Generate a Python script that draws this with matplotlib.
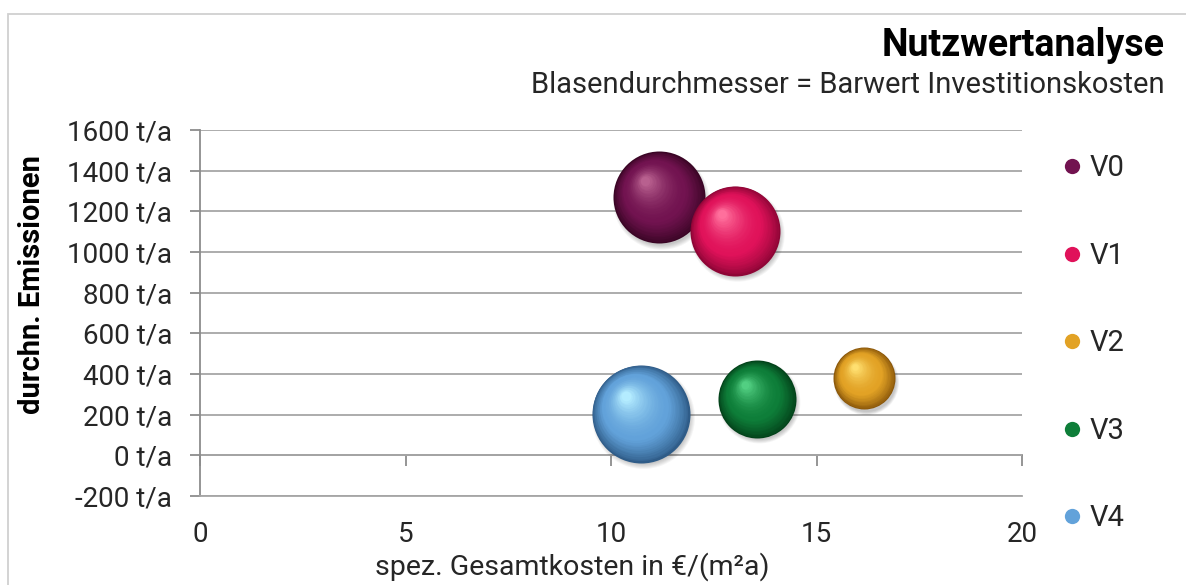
import matplotlib
matplotlib.use('Agg')
import matplotlib.pyplot as plt
import matplotlib.transforms as mtransforms
from matplotlib.colors import to_rgb
from matplotlib.lines import Line2D
from matplotlib.patches import Rectangle
import numpy as np

plt.rcParams['font.family'] = ['Roboto', 'DejaVu Sans']

# ------------------------------ #
variants = ['V0', 'V1', 'V2', 'V3', 'V4']
kosten = [11.17, 13.02, 16.16, 13.55, 10.72]          # spez. Gesamtkosten in €/(m²a)
emissionen = [1270, 1105, 380, 277, 205]             # durchn. Emissionen in t/a
barwert = [4.6, 4.5, 3.1, 3.9, 4.9]                  # Barwert Investitionskosten (Blasendurchmesser)
yTicks = [-200, 0, 200, 400, 600, 800, 1000, 1200, 1400, 1600]
xTicks = [0, 5, 10, 15, 20]

# base, dark rim, highlight
sphereColors = {
	'V0': ('#721350', '#3a0525', '#b8608f'),
	'V1': ('#e0125a', '#8e0536', '#ff6f9c'),
	'V2': ('#e2a225', '#8a570a', '#ffdf70'),
	'V3': ('#0e7e39', '#03421a', '#52cf82'),
	'V4': ('#62a2da', '#2f5c88', '#b4ecff'),
}
diamScale = 20 * 72 / 100   # barwert unit -> points
# ------------------------------ #

def mix(c1, c2, t):
	a, b = np.array(to_rgb(c1)), np.array(to_rgb(c2))
	return tuple(a + (b - a) * t)

def drawSphere(ax, fig, x, y, diam, colors, zorder, steps = 32):
	base, dark, light = colors
	r = diam / 2
	# soft shadow
	for k in range(6):
		tr = mtransforms.offset_copy(ax.transData, fig = fig, x = 1.5, y = -2.5, units = 'points')
		ax.scatter([x], [y], s = (diam * (1.05 - 0.02 * k)) ** 2, color = '#000000', alpha = 0.04,
			linewidths = 0, transform = tr, zorder = zorder)
	for k in range(steps):
		t = k / (steps - 1)
		d = diam * (1 - 0.9 * t)
		dx, dy = -0.30 * r * t, 0.36 * r * t
		if t < 0.35:
			c = mix(dark, base, (t / 0.35) ** 0.8)
		else:
			c = mix(base, light, ((t - 0.35) / 0.65) ** 1.8)
		tr = mtransforms.offset_copy(ax.transData, fig = fig, x = dx, y = dy, units = 'points')
		ax.scatter([x], [y], s = d ** 2, color = c, linewidths = 0, transform = tr, zorder = zorder + 0.01 * k)

fig = plt.figure(figsize = (11.86, 5.85), dpi = 100)
ax = fig.add_axes([200 / 1186, 89 / 585, 822 / 1186, 366 / 585])

ax.set_xlim(0, 20)
ax.set_ylim(-200, 1600)
ax.set_xticks(xTicks)
ax.set_yticks(yTicks)
ax.set_yticklabels([f'{v} t/a' for v in yTicks])
ax.grid(axis = 'y', color = '#a6a6a6', linewidth = 1.3)
ax.set_axisbelow(True)

for side in ['top', 'right']:
	ax.spines[side].set_visible(False)
ax.spines['left'].set_color('#8c8c8c')
ax.spines['left'].set_linewidth(1.3)
ax.spines['bottom'].set_color('#a6a6a6')
ax.spines['bottom'].set_linewidth(1.3)

ax.tick_params(axis = 'y', direction = 'out', length = 7, width = 1.3, color = '#8c8c8c',
	labelsize = 20, labelcolor = '#262626', pad = 13)
ax.tick_params(axis = 'x', length = 0, labelsize = 20, labelcolor = '#262626', pad = 18)

# x axis crosses at y = 0
secAx = ax.secondary_xaxis(200 / 1800)
secAx.set_xticks(xTicks)
secAx.tick_params(axis = 'x', direction = 'out', length = 8, width = 1.3, color = '#8c8c8c', labelbottom = False)
secAx.spines['bottom'].set_color('#8c8c8c')
secAx.spines['bottom'].set_linewidth(1.3)

for i in range(len(variants)):
	drawSphere(ax, fig, kosten[i], emissionen[i], barwert[i] * diamScale, sphereColors[variants[i]], 3 + i)

fig.text(572 / 1186, 1 - 567 / 585, 'spez. Gesamtkosten in €/(m²a)', ha = 'center', va = 'center',
	fontsize = 20.5, color = '#262626')
fig.text(32 / 1186, 1 - 285 / 585, 'durchn. Emissionen', rotation = 90, ha = 'center', va = 'center',
	fontsize = 21, fontweight = 'bold', color = '#000000')

fig.text(1165 / 1186, 1 - 45 / 585, 'Nutzwertanalyse', ha = 'right', va = 'center',
	fontsize = 27, fontweight = 'bold', color = '#000000')
fig.text(1165 / 1186, 1 - 85 / 585, 'Blasendurchmesser = Barwert Investitionskosten', ha = 'right', va = 'center',
	fontsize = 21, color = '#262626')

handles = [Line2D([0], [0], marker = 'o', linestyle = '', markersize = 11,
	markerfacecolor = sphereColors[v][0], markeredgewidth = 0) for v in variants]
fig.legend(handles, variants, loc = 'upper left', bbox_to_anchor = (1031 / 1186, 1 - 128 / 585),
	frameon = False, fontsize = 21, labelspacing = 2.04, handletextpad = 0.1, handlelength = 1.0,
	labelcolor = '#262626')

fig.patches.append(Rectangle((8 / 1186, -0.1), 1.2, 1 - 14 / 585 + 0.1, transform = fig.transFigure,
	fill = False, edgecolor = '#d0d0d0', linewidth = 1.3))

fig.savefig('out.png', dpi = 100, facecolor = 'white')
